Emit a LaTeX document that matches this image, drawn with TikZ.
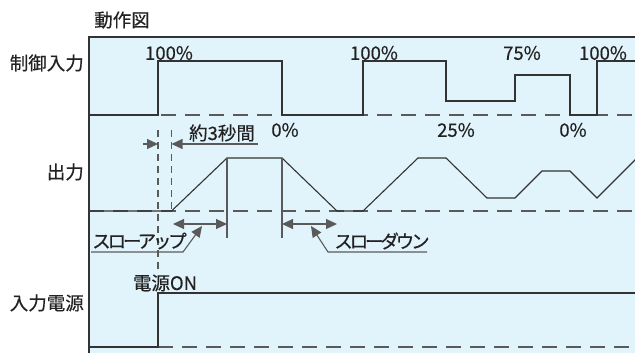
\documentclass[tikz,border=0pt]{standalone}
\usepackage{fontspec}
\newfontfamily\cjk[FakeBold=0.4]{Noto Sans CJK JP}
\newfontfamily\cjkp[FakeBold=0.4,LetterSpace=-17]{Noto Sans CJK JP}
\usetikzlibrary{arrows.meta}
\definecolor{panelbg}{HTML}{E1F3FB}
\definecolor{wave}{HTML}{333333}
\definecolor{guide}{HTML}{5A5A5A}
\definecolor{txt}{HTML}{222222}
\tikzset{
  lbl/.style={font=\cjk\fontsize{18.5}{18.5}\selectfont, text=txt, inner sep=0pt},
  kana/.style={font=\cjkp\fontsize{18.5}{18.5}\selectfont, text=txt, inner sep=0pt},
  wavel/.style={draw=wave, line width=1.1pt, line join=miter},
  base/.style={draw=guide, line width=1.2pt, dash pattern=on 15pt off 9pt},
  vdash/.style={draw=guide, line width=1.3pt, dash pattern=on 7pt off 5pt},
  guideline/.style={draw=guide, line width=1.1pt},
  tip/.style={-{Triangle[length=11pt,width=10pt]}},
  dtip/.style={{Triangle[length=11pt,width=10pt]}-{Triangle[length=11pt,width=10pt]}},
}
\begin{document}
\begin{tikzpicture}[x=1pt,y=-1pt]
\useasboundingbox (0,0) rectangle (635,353);
% panel
\fill[panelbg] (89,37) rectangle (635,353);
\draw[wave, line width=2pt] (89,353) -- (89,37) -- (636,37);
% titles
\node[lbl] (title) at (122,20) {動作図};
\node[lbl, anchor=east] (lctl) at (84,63) {制御入力};
\node[lbl, anchor=east] (lout) at (84,172) {出力};
\node[lbl, anchor=east] (lpow) at (84,303) {入力電源};
% control input
\draw[base] (89,115) -- (636,115);
\draw[wavel] (89,115) -- (158,115) -- (158,61) -- (282,61) -- (282,115) -- (363,115) -- (363,61) -- (446,61) -- (446,101) -- (515,101) -- (515,75) -- (570,75) -- (570,115) -- (597,115) -- (597,61) -- (640,61);
\node[lbl] (p1) at (169,53) {100\%};
\node[lbl] (p2) at (285,130) {0\%};
\node[lbl] (p3) at (374,53) {100\%};
\node[lbl] (p4) at (456,130) {25\%};
\node[lbl] (p5) at (522,53) {75\%};
\node[lbl] (p6) at (573,130) {0\%};
\node[lbl] (p7) at (603,53) {100\%};
% output
\draw[base] (89,211) -- (636,211);
\draw[wavel] (89,211) -- (171.5,211) -- (227,158) -- (282,158) -- (337,211) -- (363,211) -- (418,158) -- (446,158) -- (487,198) -- (515,198) -- (542,171) -- (570,171) -- (597,198) -- (640,155);
\draw[guideline] (227,158) -- (227,238);
\draw[guideline] (282,158) -- (282,238);
% dashed verticals
\draw[vdash] (158,130) -- (158,272);
\draw[vdash] (171.5,130) -- (171.5,211);
% about 3 seconds
\coordinate (d1) at (143,144);
\coordinate (d2) at (158,144);
\coordinate (d3) at (171.5,144);
\coordinate (d4) at (258,144);
\draw[guideline, tip] (d1) -- (d2);
\draw[guideline, tip] (d4) -- (d3);
\node[lbl] (sec) at (222,133) {約3秒間};
% slow up
\coordinate (su1) at (173,224);
\coordinate (su2) at (227,224);
\draw[guideline, dtip] (su1) -- (su2);
\node[kana] (slowup) at (139.5,241) {スローアップ};
\coordinate (sul1) at (91,252);
\coordinate (sul2) at (183,252);
\coordinate (sul3) at (202,226);
\draw[guideline, tip] (sul1) -- (sul2) -- (sul3);
% slow down
\coordinate (sd1) at (282,224);
\coordinate (sd2) at (337,224);
\draw[guideline, dtip] (sd1) -- (sd2);
\node[kana] (slowdown) at (382,241) {スローダウン};
\coordinate (sdl1) at (427,252);
\coordinate (sdl2) at (328,252);
\coordinate (sdl3) at (311,226);
\draw[guideline, tip] (sdl1) -- (sdl2) -- (sdl3);
% power
\draw[base] (158,347) -- (636,347);
\draw[wavel] (89,347) -- (158,347) -- (158,293) -- (640,293);
\node[lbl] (pon) at (165,283) {電源ON};
\end{tikzpicture}
\end{document}
